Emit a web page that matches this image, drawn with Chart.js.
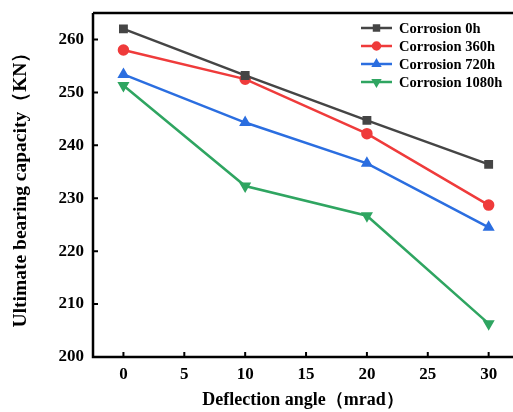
<!DOCTYPE html>
<html>
<head>
<meta charset="utf-8">
<script src="https://cdn.jsdelivr.net/npm/chart.js@4"></script>
<style>
  html, body { margin: 0; padding: 0; background: #fff; }
  #wrap { width: 513px; height: 412px; }
</style>
</head>
<body>
<div id="wrap"><canvas id="capacityChart"></canvas></div>
<script>
const angles = [0, 10, 20, 30];
const seriesNames = ["Corrosion 0h", "Corrosion 360h", "Corrosion 720h", "Corrosion 1080h"];
const corrosion0 = [262.0, 253.2, 244.7, 236.4];
const corrosion360 = [258.0, 252.5, 242.2, 228.7];
const corrosion720 = [253.4, 244.3, 236.6, 224.5];
const corrosion1080 = [251.3, 232.3, 226.7, 206.3];
const xTicks = [0, 5, 10, 15, 20, 25, 30];
const yTicks = [200, 210, 220, 230, 240, 250, 260];

const serif = "'Liberation Serif', 'Times New Roman', serif";
const colors = ["#454545", "#ef3b3b", "#2b6ee0", "#2fa561"];
const markers = ["rect", "circle", "triangle", "triangle"];
const rotations = [0, 0, 0, 180];

function toPoints(values) {
  return angles.map((a, i) => ({ x: a, y: values[i] }));
}

const allSeries = [corrosion0, corrosion360, corrosion720, corrosion1080];

// axis frame, inward tick marks and the line+marker legend
const framePlugin = {
  id: "frame",
  afterDraw(chart) {
    const { ctx, chartArea: a, scales } = chart;
    ctx.save();
    ctx.strokeStyle = "#000";
    ctx.lineWidth = 2.5;
    ctx.beginPath();
    ctx.moveTo(a.left, a.top);
    ctx.lineTo(a.right, a.top);
    ctx.moveTo(a.left, a.top);
    ctx.lineTo(a.left, a.bottom);
    ctx.lineTo(a.right, a.bottom);
    ctx.stroke();

    ctx.lineWidth = 2;
    ctx.beginPath();
    xTicks.forEach(v => {
      const px = scales.x.getPixelForValue(v);
      ctx.moveTo(px, a.bottom);
      ctx.lineTo(px, a.bottom - 5);
    });
    yTicks.forEach(v => {
      const py = scales.y.getPixelForValue(v);
      ctx.moveTo(a.left, py);
      ctx.lineTo(a.left + 5, py);
    });
    ctx.stroke();

    // legend
    ctx.font = "bold 14.5px " + serif;
    ctx.textBaseline = "middle";
    ctx.textAlign = "left";
    chart.data.datasets.forEach((ds, i) => {
      const y = 28 + i * 18;
      ctx.strokeStyle = ds.borderColor;
      ctx.lineWidth = 2.5;
      ctx.beginPath();
      ctx.moveTo(361, y);
      ctx.lineTo(392, y);
      ctx.stroke();
      ctx.fillStyle = ds.borderColor;
      Chart.helpers.drawPoint(ctx, {
        pointStyle: ds.pointStyle, rotation: ds.pointRotation,
        radius: 3.5, borderWidth: 1
      }, 376.5, y);
      ctx.fillStyle = "#000";
      ctx.fillText(ds.label, 399, y + 1);
    });
    ctx.restore();
  }
};

new Chart(document.getElementById("capacityChart"), {
  type: "line",
  data: {
    datasets: allSeries.map((vals, i) => ({
      label: seriesNames[i],
      data: toPoints(vals),
      borderColor: colors[i],
      backgroundColor: colors[i],
      borderWidth: 2.5,
      pointStyle: markers[i],
      pointRotation: rotations[i],
      pointRadius: 4.5,
      pointHoverRadius: 4.5,
      tension: 0,
    })),
  },
  options: {
    responsive: true,
    maintainAspectRatio: false,
    animation: false,
    layout: { autoPadding: false, padding: { top: 13, right: 0, left: 0, bottom: 0 } },
    plugins: {
      legend: { display: false },
      tooltip: { enabled: false },
    },
    scales: {
      x: {
        type: "linear",
        min: -2.5,
        max: 32,
        afterBuildTicks: s => { s.ticks = xTicks.map(v => ({ value: v })); },
        afterFit: s => { s.height = 55; s.paddingLeft = 0; s.paddingRight = 0; },
        grid: { display: false, drawTicks: false },
        border: { display: false },
        ticks: {
          padding: 7,
          color: "#000",
          font: { family: serif, size: 17, weight: "bold" },
        },
        title: {
          display: true,
          text: "Deflection angle（mrad）",
          color: "#000",
          font: { family: serif, size: 18, weight: "bold" },
          padding: { top: 0, bottom: 1 },
        },
      },
      y: {
        min: 200,
        max: 265,
        afterBuildTicks: s => { s.ticks = yTicks.map(v => ({ value: v })); },
        afterFit: s => { s.width = 93; s.paddingTop = 0; s.paddingBottom = 0; },
        grid: { display: false, drawTicks: false },
        border: { display: false },
        ticks: {
          padding: 9,
          color: "#000",
          font: { family: serif, size: 17, weight: "bold" },
        },
        title: {
          display: true,
          text: "Ultimate bearing capacity（KN）",
          color: "#000",
          font: { family: serif, size: 19.5, weight: "bold" },
          padding: { top: 9, bottom: 0 },
        },
      },
    },
  },
  plugins: [framePlugin],
});
</script>
</body>
</html>
